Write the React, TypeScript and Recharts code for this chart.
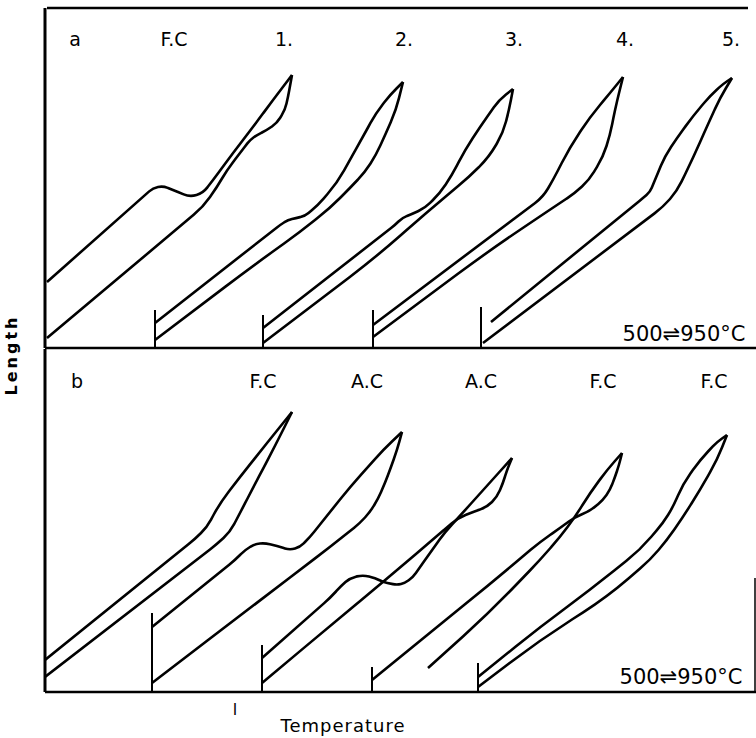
import { Line, LineChart, ReferenceLine, XAxis, YAxis } from 'recharts';

// Dilatometric curves, arbitrary units: x = temperature, y = length.
// Every loop is a heating branch and a cooling branch that meet at the top (950 °C).

// panel a
const aFcUp = [[2, 66], [108, 160], [118, 162], [128, 158], [145, 151], [158, 155], [168, 168], [188, 195], [208, 221], [228, 248], [247, 273]];
const aFcLow = [[2, 10], [158, 141], [172, 161], [182, 178], [195, 195], [205, 208], [212, 213], [222, 218], [232, 225], [240, 238], [243, 251], [247, 273]];
const a1Up = [[110, 25], [235, 123], [243, 128], [251, 130], [260, 132], [273, 143], [292, 165], [315, 206], [331, 235], [345, 253], [358, 266]];
const a1Low = [[110, 8], [205, 80], [255, 116], [285, 140], [305, 160], [320, 176], [331, 193], [341, 215], [351, 238], [358, 266]];
const a2Up = [[218, 20], [350, 123], [357, 130], [367, 134], [380, 140], [395, 155], [407, 173], [420, 198], [435, 221], [454, 248], [468, 259]];
const a2Low = [[218, 5], [331, 91], [381, 135], [424, 171], [444, 191], [458, 215], [464, 238], [468, 259]];
const a3Up = [[328, 23], [498, 151], [508, 168], [525, 201], [545, 231], [565, 255], [578, 271]];
const a3Low = [[328, 11], [445, 98], [512, 143], [530, 155], [544, 168], [558, 191], [565, 213], [570, 238], [574, 255], [578, 271]];
const a4Up = [[446, 26], [598, 150], [605, 156], [612, 173], [620, 192], [632, 210], [648, 232], [665, 252], [678, 264], [687, 270]];
const a4Low = [[438, 5], [618, 141], [632, 157], [648, 190], [664, 226], [675, 250], [687, 270]];
const aStartX = [110, 218, 328, 436];
const aStartH = [38, 33, 38, 41];
const aTags = ['a', 'F.C', '1.', '2.', '3.', '4.', '5.'];

// panel b
const bFcUp = [[0, 32], [150, 153], [162, 165], [175, 189], [195, 215], [222, 249], [247, 280]];
const bFcLow = [[0, 15], [172, 148], [185, 160], [195, 179], [210, 208], [230, 246], [247, 280]];
const b1Up = [[107, 65], [190, 132], [200, 142], [210, 148], [220, 149], [232, 146], [245, 142], [255, 145], [265, 155], [285, 180], [305, 205], [338, 242], [357, 260]];
const b1Low = [[107, 9], [205, 84], [285, 145], [315, 169], [325, 180], [333, 193], [340, 209], [346, 225], [352, 242], [357, 260]];
const b2Heat = [[217, 9], [285, 66], [338, 110], [385, 150], [413, 174], [428, 180], [442, 185], [452, 195], [458, 209], [462, 222], [467, 234]];
const b2Cool = [[217, 34], [285, 94], [296, 106], [305, 114], [318, 117], [330, 114], [338, 110], [352, 107], [360, 109], [368, 115], [385, 139], [400, 160], [413, 174], [440, 204], [467, 234]];
const b3Heat = [[327, 12], [445, 108], [495, 150], [515, 164], [530, 175], [545, 181], [558, 192], [565, 202], [570, 215], [574, 227], [577, 239]];
const b3Cool = [[383, 24], [445, 80], [495, 132], [515, 155], [530, 175], [545, 199], [562, 222], [577, 239]];
const b4Up = [[433, 15], [495, 65], [545, 102], [595, 142], [618, 169], [628, 185], [638, 208], [655, 232], [672, 250], [682, 257]];
const b4Low = [[433, 5], [495, 52], [562, 95], [605, 132], [622, 152], [638, 175], [655, 202], [672, 232], [682, 257]];
const bStartX = [107, 217, 327, 433];
const bStartH = [79, 47, 25, 29];
const bTags = ['b', 'F.C', 'A.C', 'A.C', 'F.C', 'F.C'];

const cycle = '500⇌950°C';

const toPts = (raw: number[][]) => raw.map(([x, y]) => ({ x, y }));

// polyline with its corners rounded off (half of the shorter neighbouring segment),
// so straight runs stay straight and the bends come out smooth
const roundedCurve = (context: any) => {
  let pts: [number, number][] = [];
  return {
    areaStart() {},
    areaEnd() {},
    lineStart() { pts = []; },
    point(x: number, y: number) { pts.push([+x, +y]); },
    lineEnd() {
      if (!pts.length) return;
      context.moveTo(pts[0][0], pts[0][1]);
      for (let i = 1; i < pts.length - 1; i++) {
        const [px, py] = pts[i - 1];
        const [cx, cy] = pts[i];
        const [nx, ny] = pts[i + 1];
        const l1 = Math.hypot(cx - px, cy - py);
        const l2 = Math.hypot(nx - cx, ny - cy);
        const r = Math.min(l1, l2) / 2;
        const ax = cx + ((px - cx) / l1) * r;
        const ay = cy + ((py - cy) / l1) * r;
        const bx = cx + ((nx - cx) / l2) * r;
        const by = cy + ((ny - cy) / l2) * r;
        context.lineTo(ax, ay);
        context.quadraticCurveTo(cx, cy, bx, by);
      }
      const last = pts[pts.length - 1];
      context.lineTo(last[0], last[1]);
    },
  };
};

const font = '"DejaVu Sans", sans-serif';

const Panel = ({ curves, startX, startH, yMax, margin, frameTop, rightEdge }: {
  curves: number[][][];
  startX: number[];
  startH: number[];
  yMax: number;
  margin: { top: number; right: number; bottom: number; left: number };
  frameTop?: boolean;
  rightEdge?: boolean;
}) => (
  <LineChart width={756} height={360} margin={margin}>
    <XAxis type="number" dataKey="x" domain={[0, 711]} allowDataOverflow hide />
    <YAxis type="number" dataKey="y" domain={[0, yMax]} allowDataOverflow hide />
    <ReferenceLine x={0} stroke="#000" strokeWidth={3} />
    <ReferenceLine y={0} stroke="#000" strokeWidth={2.5} />
    {frameTop && (
      <ReferenceLine segment={[{ x: 2, y: yMax }, { x: 703, y: yMax }]} stroke="#000" strokeWidth={2.5} />
    )}
    {rightEdge && (
      <ReferenceLine segment={[{ x: 710, y: 0 }, { x: 710, y: 114 }]} stroke="#000" strokeWidth={1.5} />
    )}
    {startX.map((x, i) => (
      <Line
        key={`s${i}`}
        data={[{ x, y: 0 }, { x, y: startH[i] }]}
        dataKey="y"
        type="linear"
        stroke="#000"
        strokeWidth={2}
        dot={false}
        activeDot={false}
        isAnimationActive={false}
      />
    ))}
    {curves.map((c, i) => (
      <Line
        key={`c${i}`}
        data={toPts(c)}
        dataKey="y"
        type={roundedCurve as any}
        stroke="#000"
        strokeWidth={2.6}
        strokeLinejoin="round"
        dot={false}
        activeDot={false}
        isAnimationActive={false}
      />
    ))}
  </LineChart>
);

const tag = (text: string, left: number, top: number, size = 19) => (
  <div
    key={`${text}-${left}-${top}`}
    style={{
      position: 'absolute', left, top, transform: 'translate(-50%, -50%)',
      fontFamily: font, fontSize: size, color: '#000', whiteSpace: 'nowrap', lineHeight: 1,
    }}
  >
    {text}
  </div>
);

const aTagLeft = [75, 174, 284, 404, 514, 625, 731];
const bTagLeft = [77, 263, 367, 481, 603, 714];

export default function App() {
  return (
    <div style={{ position: 'absolute', left: 0, top: 0, width: 756, height: 738, background: '#fff', overflow: 'hidden' }}>
      <div style={{ position: 'absolute', left: 0, top: 0 }}>
        <Panel
          curves={[aFcUp, aFcLow, a1Up, a1Low, a2Up, a2Low, a3Up, a3Low, a4Up, a4Low]}
          startX={aStartX}
          startH={aStartH}
          yMax={340}
          margin={{ top: 8, right: 0, bottom: 12, left: 45 }}
          frameTop
        />
      </div>
      <div style={{ position: 'absolute', left: 0, top: 340 }}>
        <Panel
          curves={[bFcUp, bFcLow, b1Up, b1Low, b2Heat, b2Cool, b3Heat, b3Cool, b4Up, b4Low]}
          startX={bStartX}
          startH={bStartH}
          yMax={343}
          margin={{ top: 9, right: 0, bottom: 8, left: 45 }}
          rightEdge
        />
      </div>
      {aTags.map((t, i) => tag(t, aTagLeft[i], 39))}
      {bTags.map((t, i) => tag(t, bTagLeft[i], 381))}
      {tag(cycle, 684, 334, 21)}
      {tag(cycle, 681, 677, 21)}
      {tag('l', 235, 710, 16)}
      <div
        style={{
          position: 'absolute', left: 12, top: 355, transform: 'translate(-50%, -50%) rotate(-90deg)',
          fontFamily: font, fontSize: 16, fontWeight: 600, letterSpacing: 3, whiteSpace: 'nowrap', lineHeight: 1,
        }}
      >
        Length
      </div>
      <div
        style={{
          position: 'absolute', left: 343, top: 726, transform: 'translate(-50%, -50%)',
          fontFamily: font, fontSize: 18, letterSpacing: 1, whiteSpace: 'nowrap', lineHeight: 1,
        }}
      >
        Temperature
      </div>
    </div>
  );
}
